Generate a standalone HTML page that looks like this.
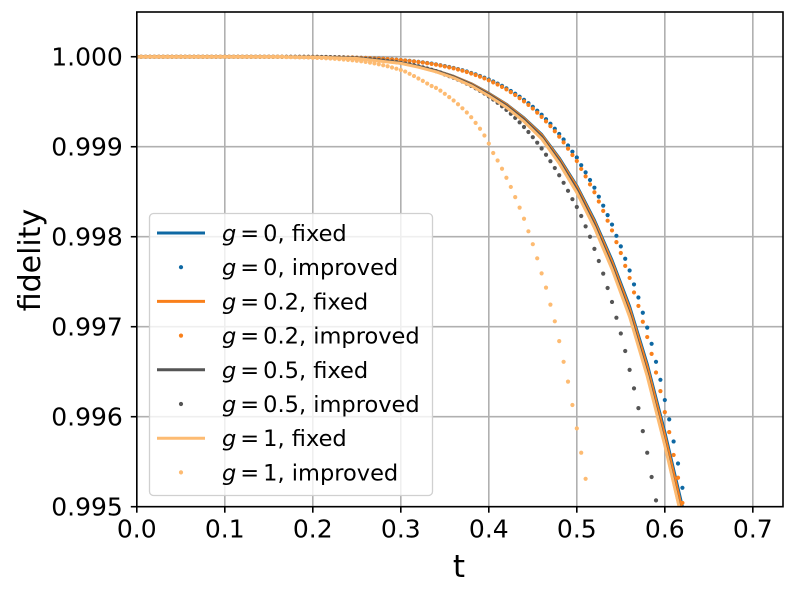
<!DOCTYPE html>
<html><head><meta charset="utf-8"><style>
html,body{margin:0;padding:0;background:#fff;}
svg{display:block;font-family:"DejaVu Sans","Liberation Sans",sans-serif;}
</style></head><body>
<svg id="chart" width="795" height="590" viewBox="0 0 795 590" xmlns="http://www.w3.org/2000/svg">
<rect width="795" height="590" fill="#fff"/>
<g id="grid"></g>
<g id="plot"></g>
<g id="axes"></g>
<g id="legend"></g>
</svg>
<script>
const xTicks = [0.0, 0.1, 0.2, 0.3, 0.4, 0.5, 0.6, 0.7];
const xTickLabels = ["0.0","0.1","0.2","0.3","0.4","0.5","0.6","0.7"];
const yTicks = [0.995, 0.996, 0.997, 0.998, 0.999, 1.000];
const yTickLabels = ["0.995","0.996","0.997","0.998","0.999","1.000"];
const seriesNames = ["g = 0, fixed","g = 0, improved","g = 0.2, fixed","g = 0.2, improved","g = 0.5, fixed","g = 0.5, improved","g = 1, fixed","g = 1, improved"];
// fixed curves: t values and infidelity (1 - fidelity) in units of 1e-6
const tLine = [0,0.1,0.2,0.25,0.3,0.32,0.34,0.36,0.38,0.40,0.42,0.44,0.46,0.48,0.50,0.52,0.54,0.56,0.58,0.60,0.62,0.64];
const lossFixedG0  = [0,0,4,18,68,107,155,218,300,407,528,680,863,1125,1435,1815,2260,2775,3415,4170,5000,5870];
const lossFixedG02 = [0,0,4,18,69,108,157,220,303,411,533,687,872,1138,1450,1835,2285,2805,3450,4215,5050,5930];
const lossFixedG05 = [0,0,4,18,70,110,160,225,310,420,545,700,890,1160,1480,1870,2330,2860,3520,4300,5150,6050];
const lossFixedG1  = [0,0,5,20,74,116,168,235,322,435,562,720,912,1185,1510,1900,2360,2890,3550,4320,5160,6050];
// improved points: t = 0.000 .. 0.640 step 0.005
const tDots = [0,0.005,0.01,0.015,0.02,0.025,0.03,0.035,0.04,0.045,0.05,0.055,0.06,0.065,0.07,0.075,0.08,0.085,0.09,0.095,
0.1,0.105,0.11,0.115,0.12,0.125,0.13,0.135,0.14,0.145,0.15,0.155,0.16,0.165,
0.17,0.175,0.18,0.185,0.19,0.195,0.2,0.205,0.21,0.215,
0.22,0.225,0.23,0.235,0.24,0.245,0.25,0.255,0.26,0.265,
0.27,0.275,0.28,0.285,0.29,0.295,0.3,0.305,0.31,0.315,
0.32,0.325,0.33,0.335,0.34,0.345,0.35,0.355,0.36,0.365,
0.37,0.375,0.38,0.385,0.39,0.395,0.4,0.405,0.41,0.415,
0.42,0.425,0.43,0.435,0.44,0.445,0.45,0.455,0.46,0.465,
0.47,0.475,0.48,0.485,0.49,0.495,0.5,0.505,0.51,0.515,
0.52,0.525,0.53,0.535,0.54,0.545,0.55,0.555,0.56,0.565,
0.57,0.575,0.58,0.585,0.59,0.595,0.6,0.605,0.61,0.615,
0.62,0.625,0.63,0.635,0.64];
const lossImpG0 = [0,0,0,0,0,0,0,0,0,0,0,0,0,0,0,0,0,0,0,0,0,0,0,0,0,0,0,0,0,0,0,0,0,0,
1,1,1,1,2,2,2,2,3,3,
4,5,6,7,8,9,11,12,14,16,
18,20,23,26,29,33,37,41,46,51,
57,63,70,77,85,94,104,114,125,137,
150,164,180,196,214,233,253,275,299,324,
351,380,411,444,479,517,557,600,645,694,
745,800,858,920,986,1055,1120,1205,1285,1370,
1455,1555,1655,1760,1865,1990,2107,2245,2375,2530,
2675,2845,3010,3190,3390,3590,3815,4030,4275,4520,
4790,5070,5350,5650,5950];
const lossImpG02 = [0,0,0,0,0,0,0,0,0,0,0,0,0,0,0,0,0,0,0,0,0,0,0,0,0,0,0,0,0,0,0,0,0,0,
1,1,1,1,2,2,2,2,3,3,
4,5,6,7,8,9,11,12,14,17,
19,21,24,27,30,34,38,42,48,53,
59,65,72,80,88,97,108,118,129,142,
155,170,186,203,221,241,262,285,309,335,
363,393,425,460,496,535,576,621,668,718,
771,828,888,952,1021,1092,1159,1247,1330,1418,
1506,1609,1713,1822,1930,2060,2181,2324,2458,2619,
2769,2945,3115,3302,3509,3716,3949,4171,4425,4678,
4958,5247,5537,5848,6158];
const lossImpG05 = [0,0,0,0,0,0,0,0,0,0,0,0,0,0,0,0,0,0,0,0,0,0,0,0,0,0,0,0,0,0,0,0,0,0,
1,1,1,1,2,2,3,3,4,5,
6,7,9,10,12,14,17,20,23,27,
31,36,41,47,53,60,68,76,85,95,
106,118,131,145,160,175,198,216,234,254,
276,299,324,351,379,409,441,475,512,550,
591,634,680,729,781,836,894,955,1020,1089,
1161,1237,1317,1401,1490,1583,1670,1770,1885,2000,
2135,2270,2410,2570,2725,2900,3075,3270,3480,3685,
3905,4160,4400,4670,4930,5200,5480,5780,6090,6400,
6730,7070,7420,7790,8170];
const lossImpG1 = [0,0,0,0,0,0,0,0,0,0,0,0,0,0,0,0,0,0,0,0,0,0,0,0,0,0,0,0,0,0,0,0,0,0,
4,5,6,7,8,9,11,13,15,17,
20,23,27,31,35,40,45,51,58,66,
74,84,95,106,120,133,147,165,190,215,
242,268,298,325,346,377,412,449,486,528,
573,620,672,735,800,875,965,1070,1153,1245,
1345,1447,1560,1677,1800,1940,2083,2240,2407,2566,
2755,2940,3160,3390,3610,3870,4130,4400,4690,5060,
5400,5750,6100,6500,6900,7300,7700,8100,8550,9000,
9500,10000,10500,11000,11500,12000,12600,13200,13800,14400,
15000,15600,16200,16800,17400];

const colors = ["#0e68a3","#0e68a3","#f9801b","#f9801b","#555555","#555555","#fdbb72","#fdbb72"];

const NS = "http://www.w3.org/2000/svg";
const L = 136.8, R = 783, T = 12, B = 506.7;
const xMin = 0, xMax = 0.7343, yMin = 0.995, yMax = 1.000497;
function xs(v){ return L + (v - xMin) / (xMax - xMin) * (R - L); }
function ys(v){ return B - (v - yMin) / (yMax - yMin) * (B - T); }
function fid(loss){ return 1 - loss * 1e-6; }
function mk(tag, attrs, parent){
  const e = document.createElementNS(NS, tag);
  for (const k in attrs) e.setAttribute(k, attrs[k]);
  parent.appendChild(e); return e;
}
const grid = document.getElementById("grid");
const plot = document.getElementById("plot");
const axes = document.getElementById("axes");
const legend = document.getElementById("legend");

const defs = mk("defs", {}, document.getElementById("chart"));
const cp = mk("clipPath", {id:"clip"}, defs);
mk("rect", {x:L, y:T, width:R-L, height:B-T}, cp);
plot.setAttribute("clip-path", "url(#clip)");

xTicks.forEach((v,i)=>{
  const x = xs(v);
  const g = mk("line", {x1:x, x2:x, y1:T, y2:B, stroke:"#b0b0b0", "stroke-width":1.6}, grid);
  
  
  const tk = mk("line", {x1:x, x2:x, y1:B, y2:B+6, stroke:"#000", "stroke-width":1.6}, axes);
  
  
  const t = mk("text", {x:x, y:B+31, "text-anchor":"middle", "font-size":25}, axes);
  t.textContent = xTickLabels[i];
  
  
});
yTicks.forEach((v,i)=>{
  const y = ys(v);
  const g = mk("line", {x1:L, x2:R, y1:y, y2:y, stroke:"#b0b0b0", "stroke-width":1.6}, grid);
  
  
  const tk = mk("line", {x1:L-6, x2:L, y1:y, y2:y, stroke:"#000", "stroke-width":1.6}, axes);
  
  
  const t = mk("text", {x:L-14, y:y+9, "text-anchor":"end", "font-size":25}, axes);
  t.textContent = yTickLabels[i];
  
  
});
const frame = mk("rect", {x:L, y:T, width:R-L, height:B-T, fill:"none", stroke:"#000", "stroke-width":1.6}, axes);


const xl = mk("text", {x:459, y:577, "text-anchor":"middle", "font-size":31}, axes);
xl.textContent = "t";


const yl = mk("text", {x:0, y:0, "text-anchor":"middle", "font-size":30, transform:"translate(40,260) rotate(-90)"}, axes);
yl.textContent = "fidelity";



function drawLine(tArr, loss, color, name){
  const pts = tArr.map((t,i)=> xs(t).toFixed(2)+","+ys(fid(loss[i])).toFixed(2)).join(" ");
  const p = mk("polyline", {points:pts, fill:"none", stroke:color, "stroke-width":3, "stroke-linejoin":"round"}, plot);
  
  
}
function drawDots(tArr, loss, color, name){
  const g = mk("g", {fill:color}, plot);
  
  
  tArr.forEach((t,i)=>{
    const y = ys(fid(loss[i]));
    if (y > B + 2.5) return;
    const c = mk("circle", {cx:xs(t), cy:y, r:2.1}, g);
    
    
  });
}
drawLine(tLine, lossFixedG0, colors[0], "line-g0-fixed");
drawDots(tDots, lossImpG0, colors[1], "points-g0-improved");
drawLine(tLine, lossFixedG02, colors[2], "line-g02-fixed");
drawDots(tDots, lossImpG02, colors[3], "points-g02-improved");
drawLine(tLine, lossFixedG05, colors[4], "line-g05-fixed");
drawDots(tDots, lossImpG05, colors[5], "points-g05-improved");
drawLine(tLine, lossFixedG1, colors[6], "line-g1-fixed");
drawDots(tDots, lossImpG1, colors[7], "points-g1-improved");

const lb = mk("rect", {x:149.5, y:213.5, width:283, height:282, rx:4, fill:"#fff", "fill-opacity":0.8, stroke:"#d0d0d0", "stroke-width":1.3}, legend);


seriesNames.forEach((nm,i)=>{
  const y = 233 + i*34.2;
  const g = mk("g", {}, legend);
  
  
  if (i % 2 === 0) {
    mk("line", {x1:157, x2:205, y1:y, y2:y, stroke:colors[i], "stroke-width":3}, g);
  } else {
    mk("circle", {cx:181, cy:y, r:2.1, fill:colors[i]}, g);
  }
  const parts = nm.split(" = ");
  const t = mk("text", {x:222, y:y+8, "font-size":22.5}, g);
  const gi = mk("tspan", {"font-style":"italic"}, t); gi.textContent = "g";
  const eq = mk("tspan", {dx:4}, t); eq.textContent = "=";
  const rest = mk("tspan", {dx:4}, t); rest.textContent = parts[1];
});
</script>
</body></html>
